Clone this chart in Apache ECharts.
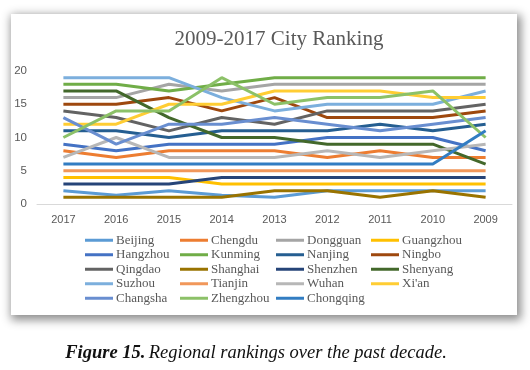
<!DOCTYPE html>
<html>
<head>
<meta charset="utf-8">
<script src="https://cdn.jsdelivr.net/npm/echarts@6/dist/echarts.min.js"></script>
<style>
  html, body { margin: 0; padding: 0; background: #fff; }
  #wrap { position: relative; width: 530px; height: 370px; overflow: hidden; }
  #card { position: absolute; left: 11px; top: 14px; width: 506px; height: 301px; background: #fff;
          box-shadow: 2px 3px 9px 2px rgba(0,0,0,0.45); }
  #chart { position: absolute; left: 0; top: 0; width: 530px; height: 370px; }
</style>
</head>
<body>
<div id="wrap">
  <div id="card"></div>
  <div id="chart"></div>
</div>
<script>
const years = ['2017','2016','2015','2014','2013','2012','2011','2010','2009'];
const yTicks = [0, 5, 10, 15, 20];

const cities = ['Beijing','Chengdu','Dongguan','Guangzhou','Hangzhou','Kunming','Nanjing','Ningbo',
  'Qingdao','Shanghai','Shenzhen','Shenyang','Suzhou','Tianjin','Wuhan',"Xi'an",'Changsha','Zhengzhou','Chongqing'];

const beijing   = [2, 1.3, 2, 1.3, 1, 2, 2, 2, 2];
const chengdu   = [8, 7, 8, 8, 8, 7, 8, 7, 7];
const dongguan  = [16, 16, 18, 17, 18, 18, 18, 18, 18];
const guangzhou = [4, 4, 4, 3, 3, 3, 3, 3, 3];
const hangzhou  = [9, 8, 9, 9, 9, 10, 10, 10, 8];
const kunming   = [18, 18, 17, 18, 19, 19, 19, 19, 19];
const nanjing   = [11, 11, 10, 11, 11, 11, 12, 11, 12];
const ningbo    = [15, 15, 16, 14, 16, 13, 13, 13, 14];
const qingdao   = [14, 13, 11, 13, 12, 14, 14, 14, 15];
const shanghai  = [1, 1, 1, 1, 2, 2, 1, 2, 1];
const shenzhen  = [3, 3, 3, 4, 4, 4, 4, 4, 4];
const shenyang  = [17, 17, 13, 10, 10, 9, 9, 9, 6];
const suzhou    = [19, 19, 19, 16, 14, 15, 15, 15, 17];
const tianjin   = [5, 5, 5, 5, 5, 5, 5, 5, 5];
const wuhan     = [7, 10, 7, 7, 7, 8, 7, 8, 9];
const xian      = [12, 12, 15, 15, 17, 17, 17, 16, 16];
const changsha  = [13, 9, 12, 12, 13, 12, 11, 12, 13];
const zhengzhou = [10, 14, 14, 19, 15, 16, 16, 17, 10];
const chongqing = [6, 6, 6, 6, 6, 6, 6, 6, 11];

const values = [beijing, chengdu, dongguan, guangzhou, hangzhou, kunming, nanjing, ningbo,
  qingdao, shanghai, shenzhen, shenyang, suzhou, tianjin, wuhan, xian, changsha, zhengzhou, chongqing];

const colors = ['#5B9BD5','#ED7D31','#A5A5A5','#FFC000','#4472C4','#70AD47','#255E91','#9E480E',
  '#636363','#997300','#264478','#43682B','#7CAFDD','#F1975A','#B7B7B7','#FFCD33','#698ED0','#8CC168','#327DC2'];

const chart = echarts.init(document.getElementById('chart'), null, { renderer: 'canvas' });

const series = cities.map((name, i) => ({
  name: name,
  type: 'line',
  data: values[i],
  symbol: 'none',
  smooth: false,
  lineStyle: { width: 3, color: colors[i] },
  itemStyle: { color: colors[i] },
  emphasis: { disabled: true }
}));

const legendCols = [0, 1, 2, 3].map(c => cities.filter((_, i) => i % 4 === c));
const legendLefts = [85, 180, 276, 371];
const legends = legendCols.map((data, c) => ({
  data: data.map(n => ({ name: n, icon: 'rect' })),
  orient: 'vertical',
  left: legendLefts[c],
  top: 233,
  itemWidth: 28,
  itemHeight: 3,
  itemGap: 0,
  padding: 0,
  selectedMode: false,
  textStyle: { fontFamily: 'Liberation Serif', fontSize: 13, color: '#595959', lineHeight: 14.5, padding: [0, 0, 0, -2] }
}));

chart.setOption({
  backgroundColor: 'transparent',
  animation: false,
  color: colors,
  grid: { left: 37, right: 18, top: 71, bottom: 166, containLabel: false },
  xAxis: {
    type: 'category',
    data: years,
    boundaryGap: true,
    axisLine: { show: true, lineStyle: { color: '#D9D9D9', width: 1 } },
    axisTick: { show: false },
    axisLabel: { color: '#595959', fontFamily: 'Liberation Sans', fontSize: 11, margin: 10 }
  },
  yAxis: {
    type: 'value',
    min: yTicks[0],
    max: yTicks[yTicks.length - 1],
    interval: yTicks[1] - yTicks[0],
    axisLine: { show: false },
    axisTick: { show: false },
    splitLine: { show: false },
    axisLabel: { color: '#595959', fontFamily: 'Liberation Sans', fontSize: 11.5, margin: 10 }
  },
  legend: legends,
  graphic: [
    {
      type: 'text', x: 279, y: 39,
      style: { text: '2009-2017 City Ranking', textAlign: 'center', textVerticalAlign: 'middle',
               font: '21px "Liberation Serif"', fill: '#595959' }
    },
    {
      type: 'text', x: 256, y: 353,
      style: {
        text: '{b|Figure 15.} {i|Regional rankings over the past decade.}',
        textAlign: 'center', textVerticalAlign: 'middle',
        rich: {
          b: { fontFamily: 'Liberation Serif', fontSize: 18.5, fontStyle: 'italic', fontWeight: 'bold', fill: '#111' },
          i: { fontFamily: 'Liberation Serif', fontSize: 18.5, fontStyle: 'italic', fill: '#111' }
        }
      }
    }
  ],
  series: series
});
</script>
</body>
</html>
